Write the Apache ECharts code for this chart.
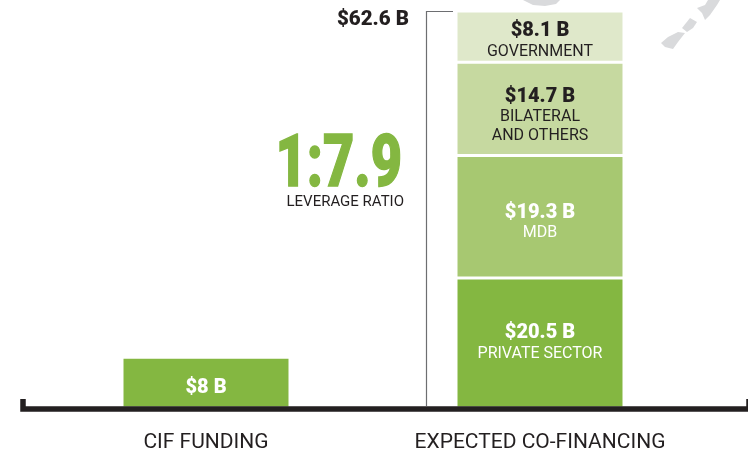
<!DOCTYPE html>
<html><head><meta charset="utf-8">
<script src="https://cdn.jsdelivr.net/npm/echarts@6/dist/echarts.min.js"></script>
<style>html,body{margin:0;padding:0;background:#fff}#c{width:748px;height:453px}</style>
</head><body><div id="c"></div>
<script>
const categories = ['CIF FUNDING', 'EXPECTED CO-FINANCING'];
const cifFunding = [8, null];
const privateSector = [null, 20.5];
const mdb = [null, 19.3];
const bilateral = [null, 14.7];
const government = [null, 8.1];
const totalCoFinancing = 62.6;
const totalLabel = '$62.6 B';
const ratioLabel = '1:7.9';
const ratioCaption = 'LEVERAGE RATIO';
const FONT = 'Roboto';
const INK = '#231f20';

function seriesOf(data, color, valueText, nameText, textColor, dy) {
  const lines = ['{v|' + valueText + '}'];
  nameText.forEach(n => lines.push('{n|' + n + '}'));
  return {
    type: 'bar', stack: 'a', data, barWidth: 168, silent: true,
    itemStyle: {color, borderColor: '#fff', borderWidth: 1.5},
    label: {
      show: true, position: 'inside', offset: [0, dy], formatter: lines.join('\n'),
      rich: {
        v: {fontFamily: FONT, fontWeight: 900, fontSize: 20, lineHeight: 22, color: textColor, align: 'center'},
        n: {fontFamily: FONT, fontWeight: 400, fontSize: 16, lineHeight: 19, color: textColor, align: 'center'}
      }
    }
  };
}

const chart = echarts.init(document.getElementById('c'), null, {renderer: 'canvas'});
chart.setOption({
  animation: false,
  backgroundColor: '#fff',
  grid: {left: 39, width: 668, top: 0, height: 409},
  xAxis: {
    type: 'category', data: categories,
    axisLine: {show: false}, axisTick: {show: false},
    axisLabel: {fontFamily: FONT, fontSize: 21, color: INK, margin: 24, interval: 0}
  },
  yAxis: {type: 'value', min: 0, max: 64.33, show: false, splitLine: {show: false}},
  series: [
    seriesOf(cifFunding, '#84b741', '$8 B', [], '#fff', 5),
    seriesOf(privateSector, '#84b741', '$20.5 B', ['PRIVATE SECTOR'], '#fff', 0),
    seriesOf(mdb, '#a7c871', '$19.3 B', ['MDB'], '#fff', 5.5),
    seriesOf(bilateral, '#c6d9a0', '$14.7 B', ['BILATERAL', 'AND OTHERS'], INK, 7),
    seriesOf(government, '#dfe8ca', '$8.1 B', ['GOVERNMENT'], INK, 4)
  ]
});

const yTop = chart.convertToPixel({yAxisIndex: 0}, totalCoFinancing);
const yBase = 406;
const gray = '#d9dadc';
const poly = pts => ({type: 'polygon', shape: {points: pts}, style: {fill: gray}, silent: true, z: 1});
chart.setOption({
  graphic: [
    poly([[523,0],[560,0],[556,4],[545,6],[533,5]]),
    poly([[697,8],[705,5],[708,0],[720,0],[717,5],[710,15],[705,20],[702,13]]),
    poly([[690,18],[697,22],[693,28],[687,32],[682,28]]),
    poly([[678,32],[685,33],[678,42],[673,49],[665,47],[661,43],[668,37]]),
    {type: 'polyline', shape: {points: [[453, Math.round(yTop)+0.5],[426.5, Math.round(yTop)+0.5],[426.5, yBase]]},
     style: {stroke: '#6d6e71', lineWidth: 1.2, fill: null}, silent: true, z: 5},
    {type: 'polyline', shape: {points: [[23, 399],[23, yBase+3],[749, yBase+3],[749, 399]]},
     style: {stroke: INK, lineWidth: 5.5, fill: null, lineJoin: 'miter'}, silent: true, z: 6},
    {type: 'text', x: 409, y: 20, style: {text: totalLabel, fontFamily: FONT, fontWeight: 900, fontSize: 20.5, fill: INK, textAlign: 'right', textVerticalAlign: 'middle'}, silent: true, z: 6},
    {type: 'text', x: 402, y: 167.5, scaleX: 0.74, style: {text: ratioLabel, fontFamily: FONT, fontWeight: 900, fontSize: 73, fill: '#84b741', stroke: '#84b741', lineWidth: 1.5, textAlign: 'right', textVerticalAlign: 'middle'}, silent: true, z: 6},
    {type: 'text', x: 404, y: 202, style: {text: ratioCaption, fontFamily: FONT, fontSize: 15, fill: INK, textAlign: 'right', textVerticalAlign: 'middle'}, silent: true, z: 6}
  ]
});
</script></body></html>
